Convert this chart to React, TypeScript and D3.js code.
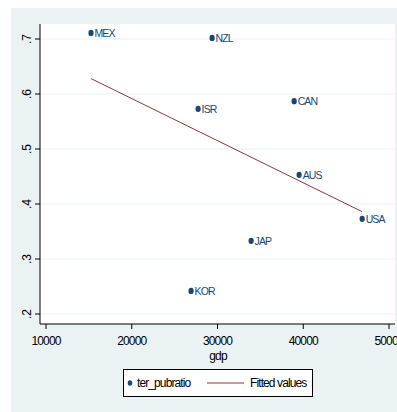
import React from 'react';
import * as d3 from 'd3';

const countries = ['MEX', 'NZL', 'ISR', 'CAN', 'AUS', 'USA', 'JAP', 'KOR'];
const gdp = [15250, 29370, 27740, 38940, 39520, 46870, 33920, 26920];
const terPubratio = [0.711, 0.702, 0.573, 0.587, 0.453, 0.373, 0.333, 0.242];

const fitGdp = [15250, 46870];
const fitValues = [0.628, 0.386];

const xTicks = [10000, 20000, 30000, 40000, 50000];
const yTicks = [0.2, 0.3, 0.4, 0.5, 0.6, 0.7];
const yTickLabels = ['.2', '.3', '.4', '.5', '.6', '.7'];

const W = 397;
const H = 412;
const bg = '#eaf2f3';
const navy = '#1a476f';
const maroon = '#90353b';
const font = "'Liberation Sans', Arial, sans-serif";

export default function App() {
  const x = d3.scaleLinear().domain([10000, 50000]).range([46, 389]);
  const y = d3.scaleLinear().domain([0.2, 0.7]).range([314, 39]);

  const plot = { left: 40, right: 395, top: 24, bottom: 324 };

  const line = d3.line<number>()
    .x((d, i) => x(fitGdp[i]))
    .y(d => y(d));

  return (
    <svg width={W} height={H} style={{ position: 'absolute', left: 0, top: 0 }}>
      <rect x={11} y={8} width={W - 11} height={H - 8} fill={bg} />
      <rect x={plot.left} y={plot.top} width={plot.right - plot.left} height={plot.bottom - plot.top} fill="#fff" />

      {yTicks.map(t => (
        <line key={'g' + t} x1={plot.left} x2={plot.right} y1={y(t)} y2={y(t)} stroke={bg} strokeWidth={1.2} />
      ))}

      <path d={line(fitValues) || ''} fill="none" stroke={maroon} strokeWidth={1} />

      {countries.map((c, i) => (
        <g key={c}>
          <ellipse cx={x(gdp[i])} cy={y(terPubratio[i])} rx={2.6} ry={3.2} fill={navy} />
          <text x={x(gdp[i]) + 3.5} y={y(terPubratio[i])} dy="0.35em" fontSize={10.5}
            fontFamily={font} letterSpacing={-0.9} fill={navy}>{c}</text>
        </g>
      ))}

      {/* y axis */}
      <line x1={plot.left} x2={plot.left} y1={plot.top} y2={plot.bottom} stroke="#000" strokeWidth={1} />
      {yTicks.map((t, i) => (
        <g key={'y' + t}>
          <line x1={plot.left - 5} x2={plot.left} y1={y(t)} y2={y(t)} stroke="#000" strokeWidth={1} />
          <text transform={`translate(31,${y(t)}) rotate(-90)`} textAnchor="middle" fontSize={12}
            fontFamily={font} fill="#000">{yTickLabels[i]}</text>
        </g>
      ))}

      {/* x axis */}
      <line x1={plot.left} x2={plot.right} y1={plot.bottom} y2={plot.bottom} stroke="#000" strokeWidth={1} />
      {xTicks.map(t => (
        <g key={'x' + t}>
          <line x1={x(t)} x2={x(t)} y1={plot.bottom} y2={plot.bottom + 5} stroke="#000" strokeWidth={1} />
          <text x={x(t)} y={345} textAnchor="middle" fontSize={12} fontFamily={font}
            letterSpacing={-0.9} fill="#000">{t}</text>
        </g>
      ))}
      <text x={218} y={360} textAnchor="middle" fontSize={12} fontFamily={font} letterSpacing={-0.9} fill="#000">gdp</text>

      {/* legend */}
      <rect x={123.5} y={369.5} width={189} height={27} fill="#fff" stroke="#000" strokeWidth={1} />
      <ellipse cx={130} cy={383} rx={2.3} ry={2.8} fill={navy} />
      <text x={137} y={383} dy="0.35em" fontSize={12} fontFamily={font} letterSpacing={-0.9} fill="#000">ter_pubratio</text>
      <line x1={207} x2={244} y1={383} y2={383} stroke={maroon} strokeWidth={1} />
      <text x={250} y={383} dy="0.35em" fontSize={12} fontFamily={font} letterSpacing={-0.9} fill="#000">Fitted values</text>
    </svg>
  );
}
